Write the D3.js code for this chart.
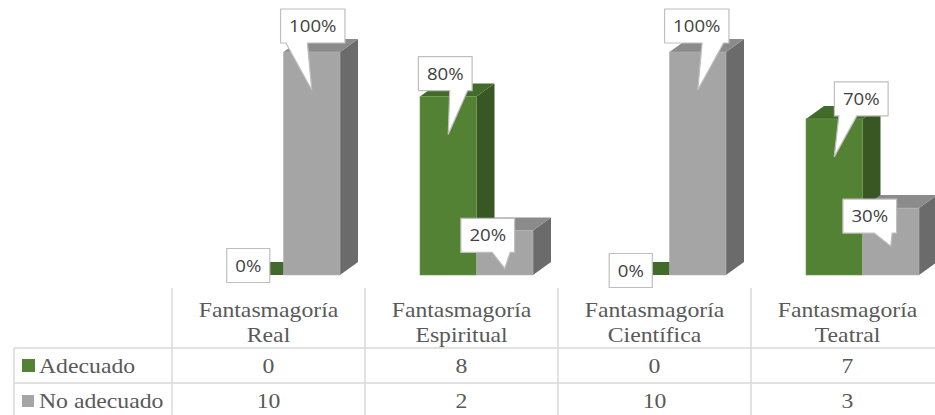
<!DOCTYPE html>
<html>
<head>
<meta charset="utf-8">
<script src="https://cdn.jsdelivr.net/npm/d3@7"></script>
<style>
  html, body { margin: 0; padding: 0; background: #fff; }
  svg { display: block; }
  .serif { font-family: "Liberation Serif", "Times New Roman", Times, serif; }
  .sans { font-family: "Open Sans", sans-serif; }
</style>
</head>
<body>
<svg id="chart" width="935" height="415"></svg>
<script>
// ---- data ----
const categories = ["Fantasmagoría Real", "Fantasmagoría Espiritual", "Fantasmagoría Científica", "Fantasmagoría Teatral"];
const seriesNames = ["Adecuado", "No adecuado"];
const adecuado = [0, 8, 0, 7];
const noAdecuado = [10, 2, 10, 3];

// ---- layout ----
const W = 935, H = 415;
const plotBottom = 275, plotTop = 52;
const depthX = 18, depthY = -13;
const tableLeft = 14, tableCatLeft = 172, tableRight = 944;
const headerTop = 288, row1Top = 348, row2Top = 383;
const textScaleX = 1.13;

const colors = {
  "Adecuado":    { front: "#548235", side: "#385723", top: "#416a2b", edge: "#6b9a4c" },
  "No adecuado": { front: "#a5a5a5", side: "#6b6b6b", top: "#8b8b8b", edge: "#b3b3b3" }
};

// callout box placement relative to the pointer tip, per series/category
const calloutOffset = {
  "Adecuado|0": [-7, -47.5],
  "No adecuado|0": [1, -64],
  "Adecuado|1": [-3, -61],
  "No adecuado|1": [-17, -33],
  "Adecuado|2": [-10.5, -42.5],
  "No adecuado|2": [-1, -64],
  "Adecuado|3": [27, -58],
  "No adecuado|3": [-21, -30]
};

const valuesBySeries = { "Adecuado": adecuado, "No adecuado": noAdecuado };
const totals = categories.map((c, i) => adecuado[i] + noAdecuado[i]);

const svg = d3.select("#chart");

const x0 = d3.scaleBand().domain(categories).range([tableCatLeft, tableRight]).padding(0);
const x1 = d3.scaleBand().domain(seriesNames).range([55, 168]).padding(0);
const y = d3.scaleLinear().domain([0, 100]).range([plotBottom, plotTop]);

const bars = [];
categories.forEach((c, ci) => {
  seriesNames.forEach(s => {
    const v = valuesBySeries[s][ci];
    const pct = v / totals[ci] * 100;
    bars.push({ cat: c, ci, series: s, value: v, pct });
  });
});

// ---- 3D columns ----
const gBars = svg.append("g");
bars.forEach(b => {
  const left = x0(b.cat) + x1(b.series);
  const right = left + x1.bandwidth();
  const top = y(b.pct);
  const bottom = y(0);
  const col = colors[b.series];
  const g = gBars.append("g");
  // right side face
  g.append("path")
    .attr("d", `M${right},${bottom} L${right + depthX},${bottom + depthY} L${right + depthX},${top + depthY} L${right},${top} Z`)
    .attr("fill", col.side);
  // top face
  g.append("path")
    .attr("d", `M${left},${top} L${right},${top} L${right + depthX},${top + depthY} L${left + depthX},${top + depthY} Z`)
    .attr("fill", col.top);
  // front face
  if (b.pct > 0) {
    g.append("rect")
      .attr("x", left).attr("y", top)
      .attr("width", x1.bandwidth()).attr("height", bottom - top)
      .attr("fill", col.front)
      .attr("stroke", col.edge).attr("stroke-width", 0.6);
  }
  b.left = left; b.right = right; b.top = top;
});

// ---- callout labels ----
const gLabels = svg.append("g");
bars.forEach(b => {
  const key = b.series + "|" + b.ci;
  const off = calloutOffset[key];
  const tipX = (b.left + b.right) / 2;
  const tipY = b.top + 38;
  const cx = tipX + off[0], cy = tipY + off[1];
  const label = Math.round(b.pct) + "%";

  const g = gLabels.append("g");
  const t = g.append("text")
    .attr("class", "sans")
    .attr("transform", `translate(${cx},${cy + 6}) scale(${textScaleX},1)`)
    .attr("text-anchor", "middle")
    .attr("font-size", 16.5)
    .attr("fill", "#404040")
    .text(label);
  const tw = t.node().getComputedTextLength() * textScaleX;
  const bw = tw + 17, bh = 34;
  const bx = cx - bw / 2, by = cy - bh / 2;

  let d = `M${bx},${by} L${bx + bw},${by} L${bx + bw},${by + bh}`;
  if (b.value > 0) {
    const toRight = tipX > cx;
    const b1 = toRight ? bx + bw * 11 / 12 : bx + bw * 5 / 12;
    const b2 = toRight ? bx + bw * 7 / 12 : bx + bw * 1 / 12;
    d += ` L${b1},${by + bh} L${tipX},${tipY} L${b2},${by + bh}`;
  }
  d += ` L${bx},${by + bh} Z`;
  g.insert("path", "text")
    .attr("d", d)
    .attr("fill", "#ffffff")
    .attr("stroke", "#bfbfbf")
    .attr("stroke-width", 1.2);
});

// ---- data table ----
const gTable = svg.append("g");
const gridColor = "#d9d9d9";
// vertical dividers
x0.domain().forEach(c => {
  gTable.append("line")
    .attr("x1", x0(c)).attr("x2", x0(c))
    .attr("y1", headerTop).attr("y2", H)
    .attr("stroke", gridColor).attr("stroke-width", 1.5);
});
gTable.append("line")
  .attr("x1", tableLeft).attr("x2", tableLeft)
  .attr("y1", row1Top).attr("y2", H)
  .attr("stroke", gridColor).attr("stroke-width", 1.5);
[row1Top, row2Top].forEach(yy => {
  gTable.append("line")
    .attr("x1", tableLeft).attr("x2", tableRight)
    .attr("y1", yy).attr("y2", yy)
    .attr("stroke", gridColor).attr("stroke-width", 1.5);
});

function serifText(x, yy, str, anchor) {
  return gTable.append("text")
    .attr("class", "serif")
    .attr("transform", `translate(${x},${yy}) scale(${textScaleX},1)`)
    .attr("text-anchor", anchor || "middle")
    .attr("font-size", 21)
    .attr("fill", "#595959")
    .text(str);
}

// header (two lines per category)
categories.forEach(c => {
  const cx = x0(c) + x0.bandwidth() / 2;
  const sp = c.indexOf(" ");
  serifText(cx, 317, c.slice(0, sp));
  serifText(cx, 342, c.slice(sp + 1));
});

// rows with legend keys
const rowBaselines = [373, 408];
seriesNames.forEach((s, si) => {
  const by = rowBaselines[si];
  const sq = si === 0 ? 13 : 12;
  gTable.append("rect")
    .attr("x", 22).attr("y", by - 14 + (si === 0 ? 0 : 1))
    .attr("width", sq).attr("height", sq)
    .attr("fill", colors[s].front);
  serifText(39, by, s, "start");
  valuesBySeries[s].forEach((v, ci) => {
    serifText(x0(categories[ci]) + x0.bandwidth() / 2, by, String(v));
  });
});
</script>
</body>
</html>
